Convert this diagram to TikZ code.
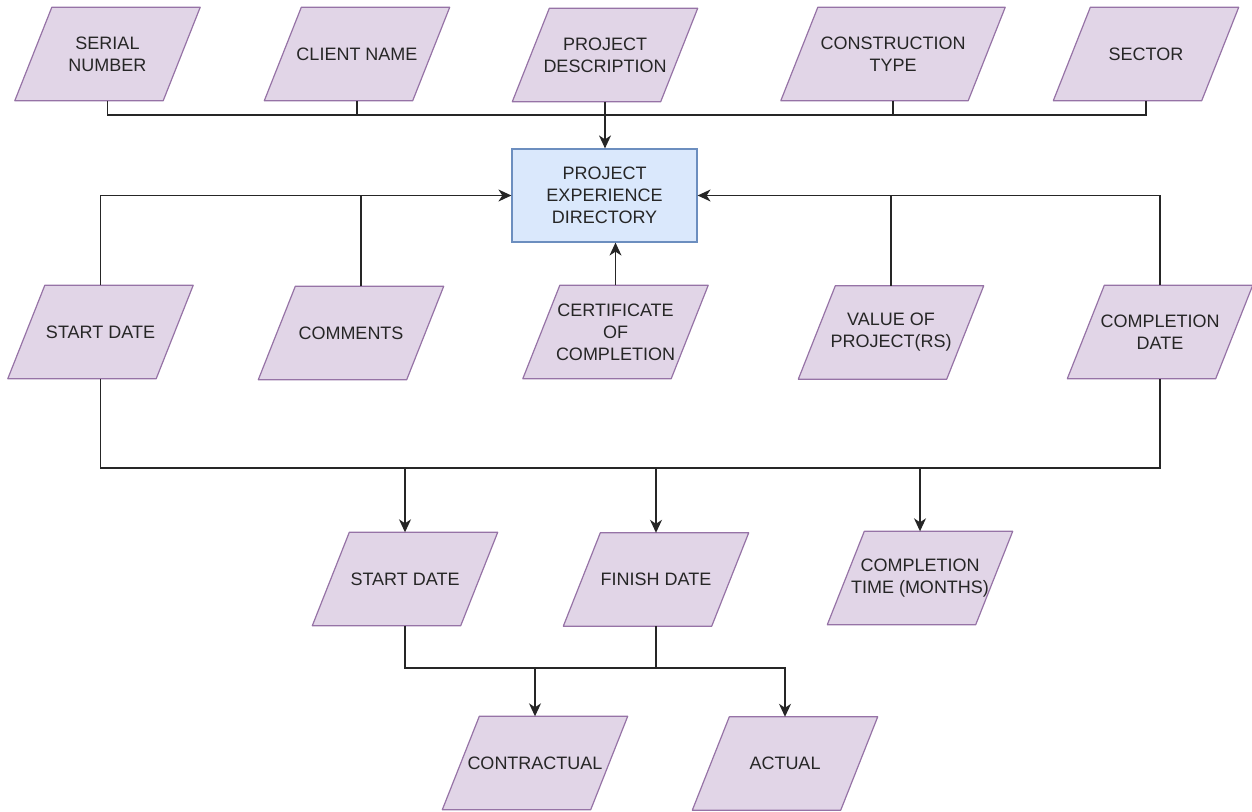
\documentclass[tikz,border=0pt]{standalone}
\usepackage{fontspec}
\setmainfont{Liberation Sans}
\usetikzlibrary{arrows.meta,backgrounds}
\definecolor{ioFill}{HTML}{E1D5E7}
\definecolor{ioLine}{HTML}{9673A6}
\definecolor{hubFill}{HTML}{DAE8FC}
\definecolor{hubLine}{HTML}{6C8EBF}
\definecolor{ink}{HTML}{262626}
\begin{document}
\begin{tikzpicture}[x=1pt,y=-1pt,
  lbl/.style={font=\fontsize{18}{22}\selectfont, text=ink, align=center},
  % io nodes are the mid-width box of a parallelogram leaning 37pt to the right
  io/.style={lbl, rectangle, minimum width=148pt, minimum height=93pt, inner sep=0pt},
  wide/.style={minimum width=187pt},
  ioshape/.style={draw=ioLine, fill=ioFill, line width=1.2pt, line join=round},
  hub/.style={lbl, rectangle, draw=hubLine, fill=hubFill, line width=1.2pt,
    minimum width=185pt, minimum height=93pt, inner sep=0pt},
  wire/.style={draw=black!85, line width=1.5pt},
  flow/.style={wire, -{Stealth[length=13pt,width=12pt,inset=4pt]}}]
\useasboundingbox (0,0) rectangle (1252,811);

% input attributes along the top
\node[io] (serial) at (107.5,54) {SERIAL\\NUMBER};
\node[io] (client) at (357,54) {CLIENT NAME};
\node[io] (desc) at (605,55) {PROJECT\\DESCRIPTION};
\node[io,wide] (ctype) at (893,54) {CONSTRUCTION\\TYPE};
\node[io] (sector) at (1146,54) {SECTOR};

% central directory
\node[hub] (ped) at (604.5,195.5) {PROJECT\\EXPERIENCE\\DIRECTORY};

% second row of attributes
\node[io] (start) at (100.5,332) {START DATE};
\node[io] (comments) at (351,333) {COMMENTS};
\node[io] (cert) at (615.5,332) {CERTIFICATE\\OF\\COMPLETION};
\node[io] (value) at (891,332.5) {VALUE OF\\PROJECT(RS)};
\node[io] (cdate) at (1160,332) {COMPLETION\\DATE};

% derived dates
\node[io] (cstart) at (405,579) {START DATE};
\node[io] (finish) at (656,579.5) {FINISH DATE};
\node[io] (ctime) at (920,578) {COMPLETION\\TIME (MONTHS)};

% date kinds
\node[io] (contract) at (535,763) {CONTRACTUAL};
\node[io] (actual) at (785,763.5) {ACTUAL};

% parallelogram outlines behind the io labels
\begin{pgfonlayer}{background}
\foreach \n in {serial,client,desc,ctype,sector,start,comments,cert,value,cdate,
                cstart,finish,ctime,contract,actual}
  \path[ioshape] ([xshift=-18.5pt]\n.south west) -- ([xshift=18.5pt]\n.north west)
    -- ([xshift=18.5pt]\n.north east) -- ([xshift=-18.5pt]\n.south east) -- cycle;
\end{pgfonlayer}

% bus heights
\coordinate (busTop) at (0,115);
\coordinate (busMid) at (0,468);
\coordinate (busLow) at (0,668);

% top row into the directory
\draw[wire] (serial.south) |- (sector.south |- busTop) -- (sector.south);
\draw[wire] (client.south) -- (client.south |- busTop);
\draw[wire] (ctype.south) -- (ctype.south |- busTop);
\draw[flow] (desc.south) -- (desc.south |- ped.north);

% second row into the directory
\draw[flow] (start.north) |- (ped.west);
\draw[wire] ([xshift=10pt]comments.north) -- ([xshift=10pt]comments.north |- ped.west);
\draw[flow] (cdate.north) |- (ped.east);
\draw[wire] (value.north) -- (value.north |- ped.east);
\draw[flow] (cert.north) -- (cert.north |- ped.south);

% start and completion dates split into derived dates
\draw[wire] (start.south) |- (cdate.south |- busMid) -- (cdate.south);
\draw[flow] (cstart.north |- busMid) -- (cstart.north);
\draw[flow] (finish.north |- busMid) -- (finish.north);
\draw[flow] (ctime.north |- busMid) -- (ctime.north);

% contractual and actual
\draw[flow] (cstart.south) |- (actual.north |- busLow) -- (actual.north);
\draw[wire] (finish.south) -- (finish.south |- busLow);
\draw[flow] (contract.north |- busLow) -- (contract.north);
\end{tikzpicture}
\end{document}
